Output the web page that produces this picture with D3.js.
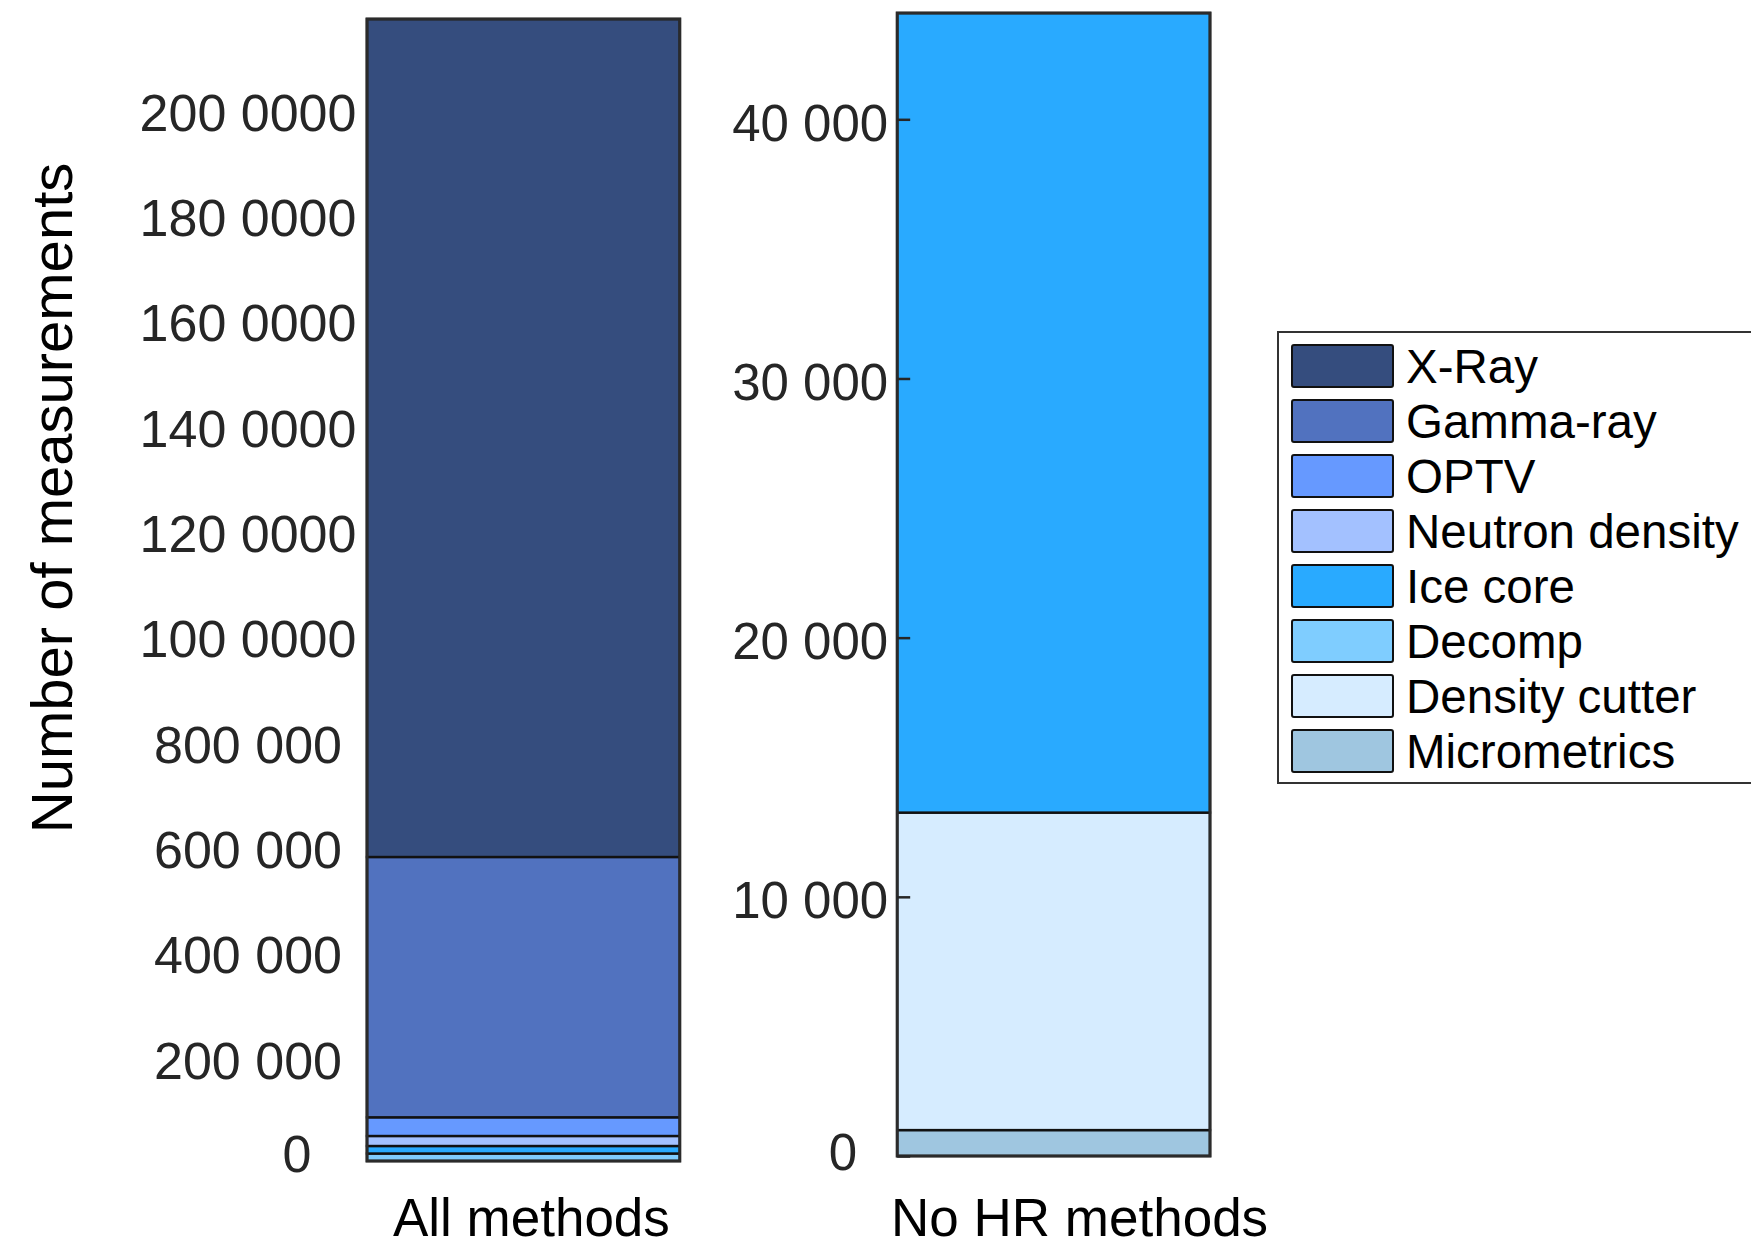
<!DOCTYPE html>
<html>
<head>
<meta charset="utf-8">
<script src="https://cdn.jsdelivr.net/npm/d3@7"></script>
<style>
  body { margin: 0; background: #fff; }
  svg { display: block; font-family: "Liberation Sans", Arial, sans-serif; }
</style>
</head>
<body>
<svg id="chart"></svg>
<script>
// data
const groups = ["All methods", "No HR methods"];
const methods = ["X-Ray", "Gamma-ray", "OPTV", "Neutron density", "Ice core", "Decomp", "Density cutter", "Micrometrics"];
const allMethodsValues = [1591600, 494400, 35500, 19000, 14300, 14200, 0, 0];
const noHrValues = [0, 0, 0, 0, 30850, 0, 12250, 1000];
const methodColors = ["#354d7e", "#5172bf", "#6699ff", "#a3c1ff", "#29aaff", "#7fcdff", "#d6ecff", "#9fc6e0"];

const leftTicks = [0, 200000, 400000, 600000, 800000, 1000000, 1200000, 1400000, 1600000, 1800000, 2000000];
const leftTickLabels = ["0", "200 000", "400 000", "600 000", "800 000", "100 0000", "120 0000", "140 0000", "160 0000", "180 0000", "200 0000"];
const rightTicks = [0, 10000, 20000, 30000, 40000];
const rightTickLabels = ["0", "10 000", "20 000", "30 000", "40 000"];

const width = 1751, height = 1245;

const svg = d3.select("#chart")
    .attr("width", width)
    .attr("height", height);

const x = d3.scaleBand()
    .domain(groups)
    .range([367, 1210])
    .paddingInner(0.41);

// each bar has its own y axis
const yLeft = d3.scaleLinear().domain([0, 2000000]).range([1161, 108]);
const yRight = d3.scaleLinear().domain([0, 40000]).range([1156, 119.3]);
const yScales = [yLeft, yRight];

const rows = groups.map((g, gi) => {
    const vals = gi === 0 ? allMethodsValues : noHrValues;
    const row = { group: g };
    methods.forEach((m, i) => row[m] = vals[i]);
    return row;
});

// bottom of the stack is the last legend entry
const stack = d3.stack().keys(methods.slice().reverse());
const series = stack(rows);
const color = d3.scaleOrdinal().domain(methods).range(methodColors);

groups.forEach((g, gi) => {
    const y = yScales[gi];
    const gBar = svg.append("g").attr("class", "bar");
    const segs = series.map(s => ({ key: s.key, y0: s[gi][0], y1: s[gi][1] }))
        .filter(d => d.y1 > d.y0);

    gBar.selectAll("rect.seg")
        .data(segs)
        .join("rect")
        .attr("class", "seg")
        .attr("x", x(g))
        .attr("width", x.bandwidth())
        .attr("y", d => y(d.y1))
        .attr("height", d => y(d.y0) - y(d.y1))
        .attr("fill", d => color(d.key))
        .attr("stroke", "#111")
        .attr("stroke-width", 2.4);

    const total = d3.max(segs, d => d.y1);
    gBar.append("rect")
        .attr("x", x(g))
        .attr("width", x.bandwidth())
        .attr("y", y(total))
        .attr("height", y(0) - y(total))
        .attr("fill", "none")
        .attr("stroke", "#2b2b2b")
        .attr("stroke-width", 3);
});

// left axis: labels only, no tick marks
const axLeft = svg.append("g")
    .call(d3.axisLeft(yLeft).tickValues(leftTicks)
        .tickFormat((d, i) => leftTickLabels[i]).tickSize(0).tickPadding(0));
axLeft.select(".domain").remove();
axLeft.selectAll("text")
    .attr("font-size", 52)
    .attr("fill", "#262626")
    .attr("font-family", "Liberation Sans, Arial, sans-serif")
    .attr("text-anchor", "middle")
    .attr("x", d => d === 0 ? 297 : 248)
    .attr("dy", d => d === 0 ? "0.21em" : "0.43em");

// right axis: ticks pointing into the bar
const axRight = svg.append("g")
    .attr("transform", `translate(${x(groups[1])},0)`)
    .call(d3.axisLeft(yRight).tickValues(rightTicks)
        .tickFormat((d, i) => rightTickLabels[i]).tickSize(-13).tickPadding(0));
axRight.select(".domain").remove();
axRight.selectAll(".tick line")
    .attr("stroke", "#262626")
    .attr("stroke-width", 2.5);
axRight.selectAll("text")
    .attr("font-size", 51)
    .attr("fill", "#262626")
    .attr("font-family", "Liberation Sans, Arial, sans-serif")
    .attr("text-anchor", "end")
    .attr("x", d => d === 0 ? -40 : -9)
    .attr("dy", d => d === 0 ? "0.26em" : "0.41em");

// category labels
svg.append("g")
    .selectAll("text")
    .data(groups)
    .join("text")
    .attr("x", (d, i) => x(d) + x.bandwidth() / 2 + (i === 0 ? 8 : 26))
    .attr("y", 1236)
    .attr("text-anchor", "middle")
    .attr("font-size", 53)
    .attr("fill", "#000")
    .text(d => d);

// y title
svg.append("text")
    .attr("transform", "translate(72,498) rotate(-90)")
    .attr("text-anchor", "middle")
    .attr("font-size", 58)
    .attr("fill", "#000")
    .text("Number of measurements");

// legend
const legend = svg.append("g").attr("transform", "translate(1278,332)");
legend.append("rect")
    .attr("width", 490)
    .attr("height", 451)
    .attr("fill", "#fff")
    .attr("stroke", "#333")
    .attr("stroke-width", 2);

const item = legend.selectAll("g.item")
    .data(methods)
    .join("g")
    .attr("class", "item")
    .attr("transform", (d, i) => `translate(14,${13 + i * 55})`);

item.append("rect")
    .attr("width", 101)
    .attr("height", 42)
    .attr("rx", 2)
    .attr("fill", d => color(d))
    .attr("stroke", "#111")
    .attr("stroke-width", 2);

item.append("text")
    .attr("x", 114)
    .attr("y", 37.5)
    .attr("font-size", 47.5)
    .attr("fill", "#000")
    .text(d => d);
</script>
</body>
</html>
